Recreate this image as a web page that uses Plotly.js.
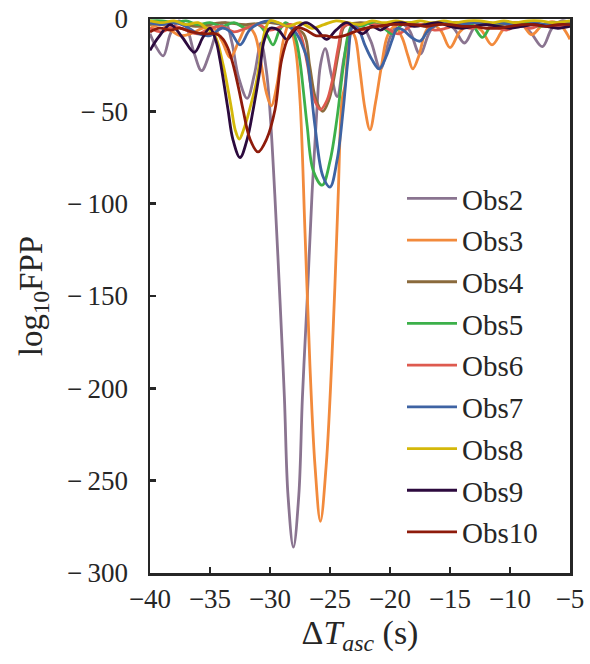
<!DOCTYPE html>
<html>
<head>
<meta charset="utf-8">
<script src="https://cdn.plot.ly/plotly-3.0.1.min.js"></script>
<style>html,body{margin:0;padding:0;background:#fff;}#chart{width:590px;height:664px;}</style>
</head>
<body>
<div id="chart"></div>
<script>
// ---- Data ----
const seriesNames = ["Obs2","Obs3","Obs4","Obs5","Obs6","Obs7","Obs8","Obs9","Obs10"];
const seriesColors = ["#8A7490","#F28A3C","#8A6A3C","#3CB04A","#DE5A4F","#3E63A3","#D4B80A","#2C0A3E","#8E1B0B"];

const obs2X = [-40,-39.5,-38.9,-38.3,-37.6,-37,-36.3,-35.7,-35,-34.3,-33.7,-33.2,-32.6,-31.9,-31.3,-30.75,-30.3,-30,-29.6,-29.17,-28.8,-28.5,-28.05,-27.6,-27.3,-26.9,-26.5,-26.1,-25.8,-25.4,-24.9,-24.4,-23.8,-23.1,-22.4,-21.6,-20.8,-20,-19.2,-18.4,-17.5,-16.6,-15.6,-14.7,-13.8,-12.9,-12,-11,-10,-9,-8.2,-7.3,-6.5,-5.7,-5];
const obs2Y = [-8,-15,-20,-8,-1,-4,-19,-28,-18,-5,-2,-12,-32,-43,-30,-13,-28,-50,-95,-152,-205,-258,-286,-258,-205,-152,-95,-50,-25,-16,-30,-42,-20,-4,-3,-12,-27,-10,-2,-6,-19,-6,-2,-5,-13,-4,-2,-3,-5,-3,-8,-15,-5,-1,-2];

const obs3X = [-40,-39,-38.3,-37.5,-36.6,-35.6,-34.7,-34,-33.3,-32.6,-31.9,-31.3,-30.8,-30.3,-29.9,-29.4,-28.9,-28.4,-27.9,-27.5,-27.08,-26.67,-26.25,-25.8,-25.32,-24.75,-24.33,-24.0,-23.75,-23.5,-23.2,-22.9,-22.5,-22.1,-21.67,-21.2,-20.7,-20.2,-19.6,-19.0,-18.5,-18.1,-17.6,-17.1,-16.6,-15.8,-15,-14.2,-13.3,-12.4,-11.5,-10.6,-9.8,-9,-8.2,-7.4,-6.5,-5.7,-5];
const obs3Y = [-5,-3,-6,-9,-8,-5,-5,-12,-21,-12,-4,-8,-22,-40,-47,-35,-12,-3,-15,-44,-116,-188,-242,-272,-242,-170,-98,-44,-36,-17,-7,-10,-28,-48,-60,-45,-25,-9,-4,-10,-20,-27,-20,-8,-3,-6,-15.5,-7,-3,-6,-14,-6,-2,-3,-8.5,-4,-1.5,-4,-11];

const obs4X = [-40,-38,-36,-34,-32,-30,-28.5,-27.2,-26.7,-26.2,-25.6,-25.1,-24.7,-24.2,-23.8,-22.5,-21,-19,-17,-15,-13,-11,-9,-7,-5];
const obs4Y = [-3,-2,-4,-2,-3,-2,-4,-8,-25,-43,-50,-44,-33,-15,-4,-2,-3,-2,-3,-2,-2,-3,-2,-3,-2];

const obs5X = [-40,-39,-38,-37,-36,-35,-34,-33,-32,-31,-30.3,-29.75,-29.2,-28.7,-28.2,-27.8,-27.5,-27.2,-26.9,-26.4,-25.65,-25.0,-24.4,-23.9,-23.5,-23.1,-22.5,-21.5,-20.5,-19.8,-19,-18,-17,-16,-15,-14,-13.2,-12.3,-11.5,-10.5,-9.5,-8.5,-7.5,-6.5,-5];
const obs5Y = [-1,-1,-2,-1,-3,-2,-4,-2,-5,-3,-8,-14,-6,-2,-5,-12,-23,-40,-58,-82,-90,-77,-53,-26,-9,-3,-4,-2,-5,-8,-3,-2,-4,-3,-2,-4,-3,-10,-3,-2,-3,-2,-4,-2,-3];

const obs6X = [-40,-39,-38,-37,-36,-35,-34,-33,-32,-31,-30,-29,-28.2,-27.5,-26.9,-26.4,-25.8,-25.25,-24.8,-24.3,-23.9,-23.2,-22.3,-21.3,-20.3,-19.3,-18.3,-17.3,-16.3,-15.3,-14.3,-13.3,-12.3,-11.3,-10.3,-9.3,-8.3,-7.3,-6.3,-5];
const obs6Y = [-5,-7,-4,-6,-8,-5,-4,-7,-5,-3,-6,-4,-3,-8,-24,-42,-49,-44,-33,-15,-4,-3,-6,-3,-5,-8,-4,-3,-6,-5,-3,-5,-3,-4,-6,-3,-5,-3,-4,-3];

const obs7X = [-40,-39,-38,-37,-36,-35,-34,-33.3,-32.5,-31.7,-30.8,-30,-29,-28.2,-27.6,-27.2,-26.9,-26.25,-25.6,-25,-24.4,-23.9,-23.5,-23.1,-22.6,-22.1,-21.5,-20.9,-20.3,-19.8,-19.4,-18.9,-18.2,-17.5,-16.8,-16,-15,-14,-13,-12,-11,-10,-9,-8,-7,-6,-5];
const obs7Y = [-2,-3,-2,-4,-8,-9,-5,-7,-14,-6,-2,-1,-3,-5,-10,-16,-22,-58,-85,-91,-76,-49,-22,-4,-6,-14,-22,-27,-20,-11,-5,-6,-10,-12,-6,-3,-2,-3,-2,-3,-2,-3,-4,-2,-3,-2,-3];

const obs8X = [-40,-39,-38,-37,-36,-35.3,-34.6,-33.9,-33.5,-33.2,-32.9,-32.56,-32.2,-31.7,-31.1,-30.8,-30.4,-30,-29.3,-28.5,-27.5,-26.5,-25.5,-24.5,-23.5,-22.5,-21.5,-20.5,-19.5,-18.5,-17.5,-16.5,-15.5,-14.5,-13.5,-12.5,-11.5,-10.5,-9.5,-8.5,-7.5,-6.5,-5];
const obs8Y = [-1,-2,-1,-3,-2,-5,-9,-25,-38,-49,-60,-65,-60,-49,-33,-20,-6,-1,-2,-4,-2,-5,-3,-1,-2,-3,-1,-2,-1,-2,-1,-2,-1,-2,-1,-1,-2,-1,-2,-1,-1,-2,-1];

const obs9X = [-40,-39.3,-38.3,-37.3,-36.3,-35.6,-35,-34.5,-34.17,-33.5,-33.1,-32.5,-31.9,-31.4,-30.85,-30.5,-30,-29.3,-28.6,-27.8,-27,-26.2,-25.3,-24.5,-23.6,-22.3,-21.5,-20.8,-20,-19,-18,-17,-16,-15,-14,-13,-12,-11,-10,-9,-8,-7,-6,-5];
const obs9Y = [-17,-10,-3,-10,-18,-10,-5,-12,-22,-49,-65,-75,-65,-49,-28,-12,-5,-6,-11,-5,-2,-5,-11,-6,-2,-8,-4,-6,-3,-2,-4,-3,-2,-4,-5,-4,-3,-4,-5,-4,-3,-4,-5,-4];

const obs10X = [-40,-39.2,-38.3,-37.5,-36.5,-35.5,-34.5,-33.9,-33.5,-33.1,-32.6,-32.25,-31.67,-31.0,-30.28,-29.58,-29.03,-28.4,-27.75,-27,-26.2,-25.4,-24.6,-23.8,-23,-22,-21,-20,-19,-18,-17,-16,-15,-14,-13,-12,-11,-10,-9,-8,-7,-6,-5];
const obs10Y = [-7,-5,-6,-5,-7,-8,-8,-11,-16,-24,-38,-49,-65,-72,-65,-49,-22,-9,-4.6,-6,-9,-9,-10,-9,-7,-5,-4,-3,-3,-3,-4,-3,-3,-4,-4,-5,-5,-4,-3,-3,-4,-3,-3];

const xTickVals = [-40,-35,-30,-25,-20,-15,-10,-5];
const xTickText = ["\u221240","\u221235","\u221230","\u221225","\u221220","\u221215","\u221210","\u22125"];
const yTickVals = [0,-50,-100,-150,-200,-250,-300];
const yTickText = ["0","\u2212\u200950","\u2212\u2009100","\u2212\u2009150","\u2212\u2009200","\u2212\u2009250","\u2212\u2009300"];

// ---- Build traces ----
const xs = [obs2X,obs3X,obs4X,obs5X,obs6X,obs7X,obs8X,obs9X,obs10X];
const ys = [obs2Y,obs3Y,obs4Y,obs5Y,obs6Y,obs7Y,obs8Y,obs9Y,obs10Y];
const traces = seriesNames.map((n,i)=>({
  type:'scatter', mode:'lines', name:n, x:xs[i], y:ys[i],
  legendgroup:'g'+i,
  line:{color:seriesColors[i], width:2.8, shape:'spline', smoothing:1}
}));

const FONT = "'Liberation Serif', 'Times New Roman', serif";
const INK = "#262626";
const layout = {
  width:590, height:664,
  margin:{l:150, r:20, t:19, b:91},
  paper_bgcolor:'#fff', plot_bgcolor:'#fff',
  font:{family:FONT, size:27, color:INK},
  showlegend:true,
  legend:{x:0.6, xanchor:'left', y:0.722, yanchor:'top', bgcolor:'rgba(0,0,0,0)',
          itemwidth:50,
          font:{family:FONT, size:29, color:INK}, traceorder:'grouped', tracegroupgap:1},
  xaxis:{range:[-40,-5], tickvals:xTickVals, ticktext:xTickText, ticks:'inside', ticklen:6, tickwidth:2.5,
         tickcolor:INK, showline:true, linecolor:INK, linewidth:2.5, mirror:true,
         showgrid:false, zeroline:false, ticklabelstandoff:0,
         tickfont:{family:FONT, size:27, color:INK},
         title:{text:"\u0394<i>T</i><sub><i>asc</i></sub> (s)", font:{family:FONT, size:34, color:INK}, standoff:6}},
  yaxis:{range:[-300,0], tickvals:yTickVals, ticktext:yTickText, ticks:'inside', ticklen:6, tickwidth:2.5,
         tickcolor:INK, showline:true, linecolor:INK, linewidth:2.5, mirror:true,
         showgrid:false, zeroline:false, ticklabelstandoff:14,
         tickfont:{family:FONT, size:27, color:INK},
         title:{text:"log<sub>10</sub>FPP", font:{family:FONT, size:33, color:INK}, standoff:15}}
};
Plotly.newPlot('chart', traces, layout, {staticPlot:true, displayModeBar:false});
</script>
</body>
</html>
